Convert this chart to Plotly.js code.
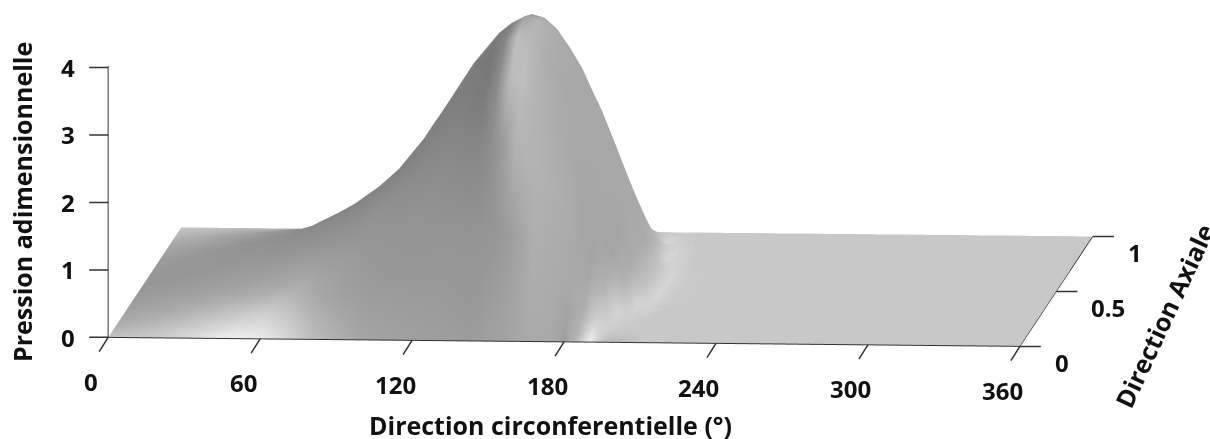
<!DOCTYPE html>
<html><head><meta charset="utf-8">
<script src="https://cdn.plot.ly/plotly-3.0.1.min.js"></script>
<style>html,body{margin:0;padding:0;background:#fff}</style></head>
<body><div id="chart" style="width:1210px;height:439px"></div>
<script>
const theta = [0,20,40,50,60,70,80,90,100,110,120,130,140,145,150,155,160,165,170,175,180,185,190,195,200,205,210,220,240,300,360];
const axial = [0,0.1,0.2,0.3,0.4,0.5,0.6,0.7,0.8,0.9,1];
const p_z00 = [0,0,0,0,0,0,0,0,0,0,0,0,0,0,0,0,0,0,0,0,0,0,0,0,0,0,0,0,0,0,0];
const p_z01 = [0,.06,.12,.16,.23,.31,.39,.49,.62,.79,1.00,1.21,1.38,1.43,1.47,1.45,1.37,1.24,1.08,.87,.63,.37,.12,.01,0,0,0,0,0,0,0];
const p_z02 = [0,.10,.22,.29,.40,.55,.69,.87,1.10,1.40,1.76,2.14,2.43,2.52,2.59,2.56,2.43,2.23,1.99,1.67,1.28,.89,.47,.14,.01,0,0,0,0,0,0];
const p_z03 = [0,.14,.29,.38,.53,.72,.91,1.14,1.44,1.83,2.30,2.80,3.18,3.30,3.39,3.35,3.20,2.95,2.66,2.27,1.80,1.32,.82,.38,.08,0,0,0,0,0,0];
const p_z04 = [0,.15,.33,.43,.60,.82,1.03,1.30,1.64,2.09,2.63,3.19,3.63,3.77,3.87,3.82,3.65,3.38,3.07,2.64,2.12,1.60,1.04,.55,.16,.01,0,0,0,0,0];
const p_z05 = [0,.16,.34,.45,.62,.85,1.07,1.35,1.70,2.16,2.72,3.30,3.75,3.90,4.00,3.95,3.78,3.50,3.18,2.74,2.22,1.70,1.12,.62,.22,.02,0,0,0,0,0];
const p_z06 = [0,.15,.33,.43,.60,.82,1.03,1.30,1.64,2.09,2.63,3.19,3.63,3.77,3.87,3.82,3.65,3.38,3.07,2.64,2.12,1.60,1.04,.55,.16,.01,0,0,0,0,0];
const p_z07 = [0,.14,.29,.38,.53,.72,.91,1.14,1.44,1.83,2.30,2.80,3.18,3.30,3.39,3.35,3.20,2.95,2.66,2.27,1.80,1.32,.82,.38,.08,0,0,0,0,0,0];
const p_z08 = [0,.10,.22,.29,.40,.55,.69,.87,1.10,1.40,1.76,2.14,2.43,2.52,2.59,2.56,2.43,2.23,1.99,1.67,1.28,.89,.47,.14,.01,0,0,0,0,0,0];
const p_z09 = [0,.06,.12,.16,.23,.31,.39,.49,.62,.79,1.00,1.21,1.38,1.43,1.47,1.45,1.37,1.24,1.08,.87,.63,.37,.12,.01,0,0,0,0,0,0,0];
const p_z10 = [0,0,0,0,0,0,0,0,0,0,0,0,0,0,0,0,0,0,0,0,0,0,0,0,0,0,0,0,0,0,0];
const pressure = [p_z00,p_z01,p_z02,p_z03,p_z04,p_z05,p_z06,p_z07,p_z08,p_z09,p_z10];
// grey level at each grid node
const g_z00 = [195,205,230,240,235,215,190,175,165,162,160,158,155,156,160,162,165,168,170,168,160,185,240,190,185,190,198,200,200,200,200];
const g_z01 = [175,185,200,205,205,190,170,160,155,152,150,150,148,148,150,155,165,175,172,170,168,172,212,205,200,200,200,200,200,200,200];
const g_z02 = [165,170,175,175,172,168,160,155,150,147,145,140,135,140,155,178,180,178,175,172,168,165,178,212,205,200,200,200,200,200,200];
const g_z03 = [158,160,160,160,158,155,150,147,145,140,135,130,122,140,185,190,180,175,170,168,166,165,165,178,212,208,200,200,200,200,200];
const g_z04 = [153,153,155,153,150,145,142,138,135,130,128,125,118,135,190,185,175,170,168,168,168,168,165,170,195,214,203,200,200,200,200];
const g_z05 = [150,150,150,148,145,140,135,132,130,128,128,125,125,130,160,180,175,170,168,168,168,168,168,170,190,214,203,200,200,200,200];
const g_z06 = [152,150,148,145,140,135,130,128,128,128,128,128,128,130,150,170,170,168,168,168,168,168,168,170,195,214,203,200,200,200,200];
const g_z07 = [155,150,145,142,135,130,125,125,125,128,128,128,128,130,145,165,168,168,168,168,168,168,168,178,212,208,200,200,200,200,200];
const g_z08 = [165,158,150,145,138,130,128,128,128,128,128,128,130,130,140,160,168,168,168,168,168,168,170,190,215,204,200,200,200,200,200];
const g_z09 = [178,168,155,145,135,130,128,128,128,128,128,130,130,130,140,155,165,168,168,168,170,172,185,215,205,200,200,200,200,200,200];
const g_z10 = [197,192,188,175,152,132,130,130,130,130,130,130,130,130,140,155,165,168,170,170,170,175,200,200,200,200,200,200,200,200,200];
const shade = [g_z00,g_z01,g_z02,g_z03,g_z04,g_z05,g_z06,g_z07,g_z08,g_z09,g_z10];
const xTicks = [0,60,120,180,240,300,360];
const yTicks = [0,0.5,1];
const zTicks = [0,1,2,3,4];

const fam = '"Open Sans", "Liberation Sans", sans-serif';
const tickFont = {family:fam, size:24, color:'#111', weight:700};
const titleFont = {family:fam, size:25, color:'#111', weight:700};
const ax = (tickvals, range) => ({
  title:{text:''}, tickvals, ticktext:tickvals.map(String), range, autorange:false,
  showticklabels:false, ticks:'', showgrid:false, zeroline:false, showbackground:false, showspikes:false,
  showline:true, linecolor:'#333', linewidth:2
});
const tick = (x,y,z,axp,ayp) => ({x,y,z,text:' ',showarrow:true,arrowhead:0,arrowwidth:1.5,arrowcolor:'#333',standoff:0,ax:axp,ay:ayp});
const label = (x,y,z,v,dx,dy,anchor) => ({x,y,z,text:String(v),showarrow:false,font:tickFont,xshift:dx,yshift:dy,xanchor:anchor||'center',yanchor:'middle'});
const sceneNotes = [].concat(
  xTicks.map(v=>tick(v,0,0,-12,19)), xTicks.map(v=>label(v,0,0,v,-17,-44)),
  yTicks.map(v=>tick(360,v,0,24,0)), yTicks.map(v=>label(360,v,0,v,33,-16,'left')),
  zTicks.map(v=>tick(0,0,v,-22,0)), zTicks.map(v=>label(0,0,v,v,-40,0))
);
const E=4, C={x:0.0205,y:0,z:-0.313};
const dir={x:0.0801,y:-0.9892,z:0.122};
Plotly.newPlot('chart',[{
  type:'surface', x:theta, y:axial, z:pressure, surfacecolor:shade,
  colorscale:[[0,'rgb(0,0,0)'],[1,'rgb(255,255,255)']], cmin:0, cmax:255, showscale:false, hoverinfo:'skip',
  lighting:{ambient:1,diffuse:0,specular:0,roughness:1,fresnel:0}
}],{
  paper_bgcolor:'#fff', margin:{l:0,r:0,t:0,b:0}, width:1210, height:439, showlegend:false,
  annotations:[
    {text:'Direction circonferentielle (°)',xref:'paper',yref:'paper',x:550/1210,y:1-425/439,xanchor:'center',yanchor:'middle',showarrow:false,font:titleFont},
    {text:'Pression adimensionnelle',xref:'paper',yref:'paper',x:22/1210,y:1-202/439,xanchor:'center',yanchor:'middle',showarrow:false,textangle:-90,font:titleFont},
    {text:'Direction Axiale',xref:'paper',yref:'paper',x:1164/1210,y:1-316/439,xanchor:'center',yanchor:'middle',showarrow:false,textangle:-65,font:titleFont}
  ],
  scene:{
    domain:{x:[0,1],y:[0,1]},
    aspectmode:'manual', aspectratio:{x:4.167,y:4.12,z:1.245},
    camera:{projection:{type:'orthographic'}, up:{x:0,y:0,z:1}, center:C,
      eye:{x:C.x+dir.x*E,y:C.y+dir.y*E,z:C.z+dir.z*E}},
    xaxis:ax(xTicks,[0,360]),
    yaxis:ax(yTicks,[0,1]),
    zaxis:ax(zTicks,[0,4.02]),
    annotations:sceneNotes
  }
},{displayModeBar:false});
</script></body></html>
